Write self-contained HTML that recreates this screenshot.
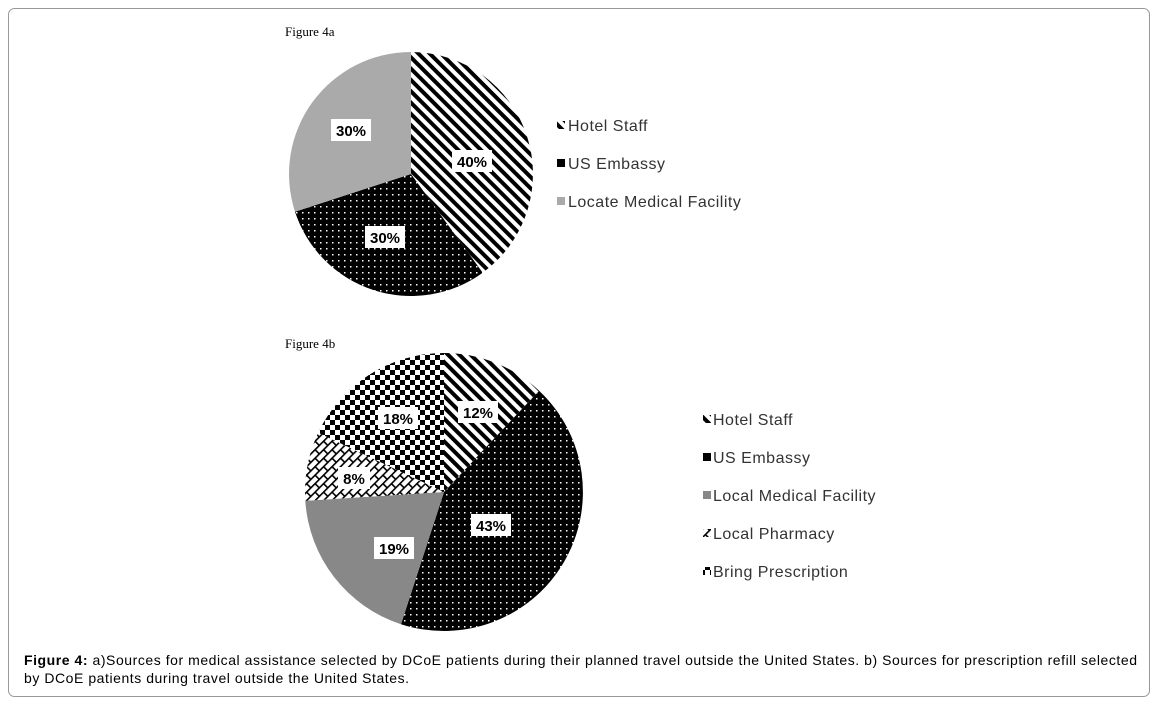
<!DOCTYPE html><html><head><style>body{margin:0;background:#fff}svg{display:block}</style></head><body>
<svg width="1158" height="705" xmlns="http://www.w3.org/2000/svg" font-family="Liberation Sans, sans-serif">
<defs>
<pattern id="diag" width="8" height="8" patternUnits="userSpaceOnUse" patternTransform="rotate(-45)"><rect width="8" height="8" fill="#fff"/><rect width="4" height="8" fill="#000"/></pattern>
<pattern id="dots" width="6" height="6" patternUnits="userSpaceOnUse"><rect width="6" height="6" fill="#000"/><rect x="2" y="2" width="1.5" height="1.5" fill="#fff"/></pattern>
<pattern id="check" width="10" height="10" patternUnits="userSpaceOnUse"><rect width="10" height="10" fill="#fff"/><rect width="5" height="5" fill="#000"/><rect x="5" y="5" width="5" height="5" fill="#000"/></pattern>
<pattern id="brick" width="12" height="12" patternUnits="userSpaceOnUse" patternTransform="rotate(-45)"><rect width="12" height="12" fill="#fff"/><rect y="0" width="12" height="1.6" fill="#000"/><rect y="6" width="12" height="1.6" fill="#000"/><rect x="0" y="0" width="1.6" height="6" fill="#000"/><rect x="6" y="6" width="1.6" height="6" fill="#000"/></pattern>
</defs>
<rect x="8.5" y="8.5" width="1141" height="688" rx="6" fill="#fff" stroke="#999"/>
<text x="285" y="36" font-family="Liberation Serif, serif" font-size="13">Figure 4a</text>
<path d="M411,174 L411,52 A122,122 0 0 1 482.7,272.7 Z" fill="url(#diag)"/>
<path d="M411,174 L482.7,272.7 A122,122 0 0 1 295,211.7 Z" fill="url(#dots)"/>
<path d="M411,174 L295,211.7 A122,122 0 0 1 411,52 Z" fill="#aaa"/>
<g font-weight="bold" font-size="15" text-anchor="middle">
<rect x="452" y="150" width="40" height="22" fill="#fff"/><text x="472" y="167">40%</text>
<rect x="365" y="226" width="40" height="22" fill="#fff"/><text x="385" y="243">30%</text>
<rect x="331" y="119" width="40" height="22" fill="#fff"/><text x="351" y="136">30%</text>
</g>
<g font-size="16" fill="#333" letter-spacing="0.5">
<rect x="557" y="121" width="8" height="8" fill="url(#diag)"/><text x="568" y="131">Hotel Staff</text>
<rect x="557" y="159" width="8" height="8" fill="#000"/><text x="568" y="169">US Embassy</text>
<rect x="557" y="197" width="8" height="8" fill="#aaa"/><text x="568" y="207">Locate Medical Facility</text>
</g>
<text x="285" y="348" font-family="Liberation Serif, serif" font-size="13">Figure 4b</text>
<path d="M444,492 L444,353 A139,139 0 0 1 539.1,390.7 Z" fill="url(#diag)"/>
<path d="M444,492 L539.1,390.7 A139,139 0 0 1 401,624.2 Z" fill="url(#dots)"/>
<path d="M444,492 L401,624.2 A139,139 0 0 1 305.3,500.7 Z" fill="#888"/>
<path d="M444,492 L305.3,500.7 A139,139 0 0 1 318.2,432.8 Z" fill="url(#brick)"/>
<path d="M444,492 L318.2,432.8 A139,139 0 0 1 444,353 Z" fill="url(#check)"/>
<g font-weight="bold" font-size="15" text-anchor="middle">
<rect x="458" y="401" width="40" height="22" fill="#fff"/><text x="478" y="418">12%</text>
<rect x="378" y="407" width="40" height="22" fill="#fff"/><text x="398" y="424">18%</text>
<rect x="338" y="467" width="32" height="22" fill="#fff"/><text x="354" y="484">8%</text>
<rect x="471" y="514" width="40" height="22" fill="#fff"/><text x="491" y="531">43%</text>
<rect x="374" y="537" width="40" height="22" fill="#fff"/><text x="394" y="554">19%</text>
</g>
<g font-size="16" fill="#333" letter-spacing="0.5">
<rect x="703" y="415" width="8" height="8" fill="url(#diag)"/><text x="713" y="425">Hotel Staff</text>
<rect x="703" y="453" width="8" height="8" fill="#000"/><text x="713" y="463">US Embassy</text>
<rect x="703" y="491" width="8" height="8" fill="#888"/><text x="713" y="501">Local Medical Facility</text>
<rect x="703" y="529" width="8" height="8" fill="url(#brick)"/><text x="713" y="539">Local Pharmacy</text>
<rect x="703" y="567" width="8" height="8" fill="url(#check)"/><text x="713" y="577">Bring Prescription</text>
</g>
<g font-size="14" fill="#000">
<text x="24" y="665" textLength="1113" lengthAdjust="spacing"><tspan font-weight="bold">Figure 4:</tspan> a)Sources for medical assistance selected by DCoE patients during their planned travel outside the United States. b) Sources for prescription refill selected</text>
<text x="24" y="683" textLength="385" lengthAdjust="spacing">by DCoE patients during travel outside the United States.</text>
</g>
</svg>
</body></html>
